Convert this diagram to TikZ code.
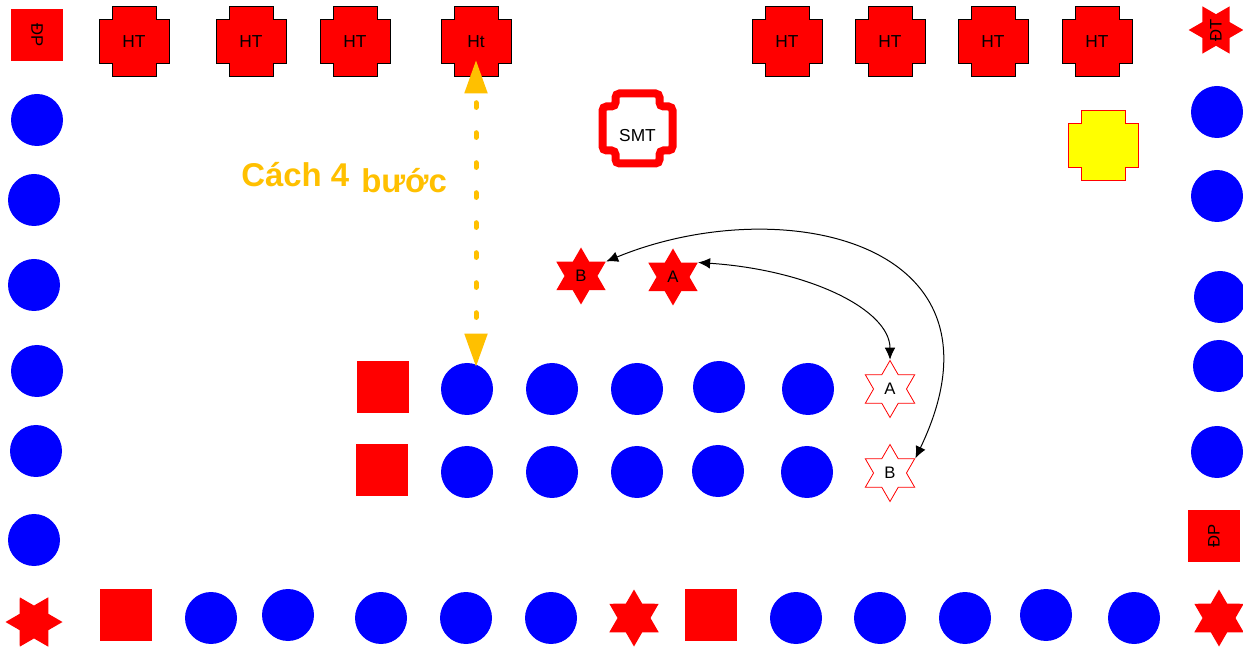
\documentclass[tikz,border=0pt]{standalone}
\usepackage{fontspec}
\setmainfont{Liberation Sans}
\usetikzlibrary{shapes.geometric,arrows.meta}
\definecolor{myred}{RGB}{255,0,0}
\definecolor{myblue}{RGB}{0,0,255}
\definecolor{myyellow}{RGB}{255,255,0}
\definecolor{myorange}{RGB}{255,192,0}
\tikzset{
  crossp/.pic={\path[pic actions] (-22,-35) -- (22,-35) -- (22,-22) -- (35,-22) -- (35,22) -- (22,22) -- (22,35) -- (-22,35) -- (-22,22) -- (-35,22) -- (-35,-22) -- (-22,-22) -- cycle;},
  dot/.style={circle,fill=myblue,minimum size=39pt,inner sep=0pt},
  rsq/.style={rectangle,fill=myred,minimum size=39pt,inner sep=0pt,font=\fontsize{12.5}{14}\selectfont},
  rstar/.style={star,star points=6,star point ratio=1.732,fill=myred,minimum size=42.75pt,inner sep=0pt,font=\fontsize{12.5}{14}\selectfont},
  ostar/.style={rstar,fill=white,draw=myred,line width=0.6pt,font=\fontsize{12.5}{14}\selectfont},
  htpic/.style={fill=myred,draw=black,line width=0.75pt},
  crosslabel/.style={rectangle,minimum size=52.5pt,inner sep=0pt,font=\fontsize{13}{15}\selectfont},
  link/.style={draw=black,line width=0.75pt,arrows={Latex[length=9pt,width=8pt]-Latex[length=9pt,width=8pt]}},
  steps/.style={draw=myorange,line width=3.75pt,line cap=round,dash pattern=on 3.5pt off 19pt,dash phase=-8pt,arrows={Triangle[length=25pt,width=16.5pt]-Triangle[length=25pt,width=16.5pt]}},
  steptext/.style={text=myorange,font=\fontsize{24.7}{28}\selectfont\bfseries,inner sep=0pt}
}
\begin{document}
\begin{tikzpicture}[x=0.75pt,y=-0.75pt]
\fill[white] (0,0) rectangle (1243,648);
\useasboundingbox (0,0) rectangle (1243,648);
% blue circles
\foreach \n/\x/\y in {l1/37/120, l2/34/200, l3/34/285, l4/37/371, l5/36/451, l6/34/540,
  r1/1217/112, r2/1217/196, r3/1220/297, r4/1219/366, r5/1217/452,
  a1/467/389, a2/552/389, a3/637/389, a4/719/387, a5/808/389,
  b1/467/472, b2/552/472, b3/637/472, b4/718/471, b5/807/472,
  c1/211/618, c2/288/615, c3/381/618, c4/466/618, c5/551/618,
  c6/796/618, c7/880/618, c8/965/618, c9/1046/615, c10/1134/618}
  {\node[dot] (\n) at (\x,\y) {};}
% squares
\node[rsq,rotate=-90] (dp1) at (37,35) {ĐP};
\node[rsq,rotate=90] (dp2) at (1214,536) {ĐP};
\node[rsq] (q1) at (383,387) {};
\node[rsq] (q2) at (382,470) {};
\node[rsq] (q3) at (126,615) {};
\node[rsq] (q4) at (711,615) {};
% HT crosses
\foreach \n/\x/\t in {ht1/134/HT, ht2/251/HT, ht3/355/HT, ht4/476/Ht, ht5/787/HT, ht6/890/HT, ht7/993/HT, ht8/1097/HT}
  {\pic[htpic] at (\x,42) {crossp};
   \node[crosslabel] (\n) at (\x,42) {\t};}
% SMT
\pic[draw=myred,line width=6pt,rounded corners=3pt] at (637.5,128.5) {crossp};
\node[crosslabel] (smt) at (637.5,136) {SMT};
% yellow
\pic[fill=myyellow,draw=myred,line width=0.75pt] at (1103.5,145.5) {crossp};
\node[crosslabel] (yel) at (1103.5,145.5) {};
% stars
\node[rstar] (sB) at (581,276) {B};
\node[rstar] (sA) at (673,277) {A};
\node[ostar] (oA) at (890,389) {A};
\node[ostar] (oB) at (890,473) {B};
\node[rstar,rotate=90,minimum size=41pt] (dt) at (1216,30) {ĐT};
\node[rstar,rotate=90] (st1) at (34,622) {};
\node[rstar] (st2) at (634,618) {};
\node[rstar] (st3) at (1219,618) {};
% curved links
\draw[link] (sA.30) .. controls (810,270) and (890,310) .. (oA.90);
\draw[link] (sB.30) .. controls (780,190) and (1020,240) .. (oB.30);
% text
\node[steptext,anchor=base west] (t1) at (241,187) {Cách 4};
\node[steptext,anchor=base west] (t2) at (361,193) {bước};
% orange arrow
\coordinate (stepTop) at (476,60);
\coordinate (stepBot) at (476,367);
\draw[steps] (stepTop) -- (stepBot);
\end{tikzpicture}
\end{document}
